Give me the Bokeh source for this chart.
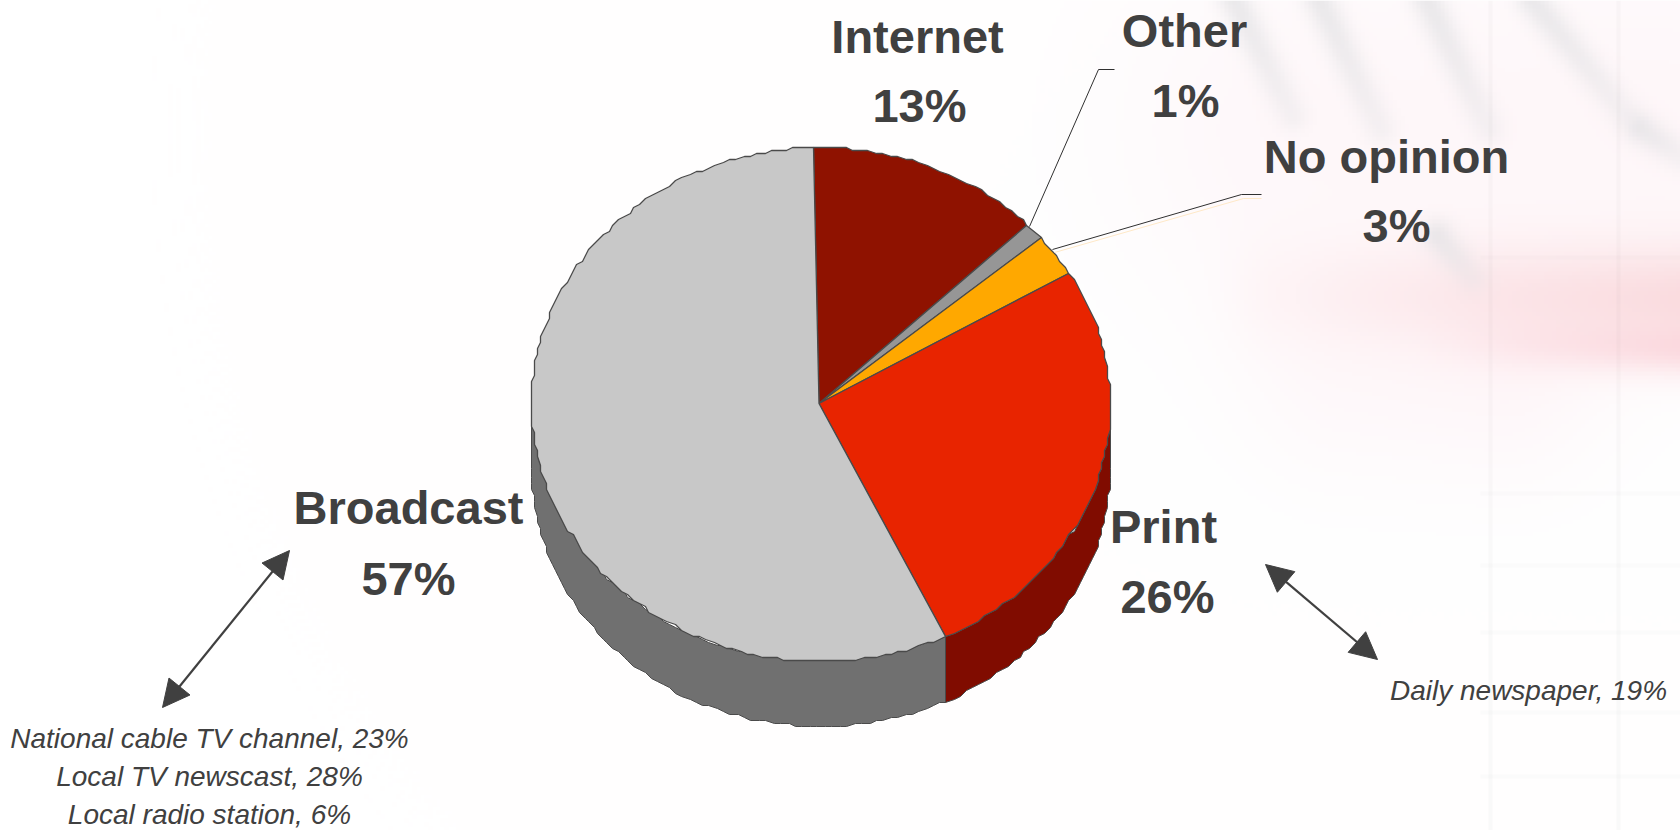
import numpy as np
from bokeh.plotting import figure
from bokeh.models import Range1d, Arrow, NormalHead
from bokeh.core.properties import value
from bokeh.embed import file_html
from bokeh.resources import INLINE

# ---- data -------------------------------------------------------------
categories = ["Internet", "Other", "No opinion", "Print", "Broadcast"]
shares = [13, 1, 2.8, 26.4, 56.8]
top_colors = ["#8F1200", "#969696", "#FFA800", "#E82400", "#C8C8C8"]
wall_colors = {"Print": "#800C00", "Broadcast": "#707070"}
label_text = ["Internet", "13%", "Other", "1%", "No opinion", "3%", "Print", "26%", "Broadcast", "57%"]
label_x = [917, 919, 1184, 1185, 1386, 1396, 1163, 1167, 408, 408]
label_base = [36, 105, 30, 100, 156, 225, 526, 596, 507, 578]
note_text = ["National cable TV channel, 23%", "Local TV newscast, 28%", "Local radio station, 6%", "Daily newspaper, 19%"]
note_x = [209, 209, 209, 1528]
note_base = [738, 776, 814, 690]
INK = "#404040"
FONT = "Liberation Sans"

W, H = 1680, 830
def Y(v):
    return 830 - np.asarray(v, dtype=float)

p = figure(width=W, height=H, output_backend="svg", toolbar_location=None,
           x_range=Range1d(0, 1680), y_range=Range1d(0, 830), min_border=0,
           outline_line_color=None, background_fill_color="white", border_fill_color="white")
p.axis.visible = False
p.grid.visible = False

# ---- pale backdrop ----------------------------------------------------
sx, sy = 4, 4
gx, gy = np.meshgrid(np.arange(0, 1680, sx) + 2.0, np.arange(0, 830, sy) + 2.0)
bg = np.ones(gx.shape + (3,))
def streak(x0, y0, x1, y1, w, col, s, fade=0.25):
    global bg
    dx, dy = x1 - x0, y1 - y0
    t = np.clip(((gx - x0) * dx + (gy - y0) * dy) / (dx * dx + dy * dy), 0, 1)
    d = np.hypot(gx - (x0 + t * dx), gy - (y0 + t * dy))
    a = s * np.exp(-(d / w) ** 2) * (fade + (1 - fade) * t)
    for k in range(3):
        bg[..., k] = bg[..., k] * (1 - a) + col[k] * a
tint = (1.0, 0.93, 0.95)
pink = (0.97, 0.78, 0.80)
grey = (0.88, 0.88, 0.89)
streak(1300, 130, 1650, 130, 190, tint, 0.45, 0.9)
streak(1350, 380, 1500, 380, 110, tint, 0.4, 0.8)
streak(1290, 295, 1700, 300, 55, pink, 0.62, 0.2)
streak(1450, 345, 1700, 350, 24, (0.98, 0.76, 0.80), 0.5, 0.1)
for seg in [(1292, 115, 1234, 0), (1380, 128, 1319, 0), (1488, 128, 1427, 0),
            (1623, 111, 1532, 0), (1680, 155, 1640, 128), (1471, 277, 1437, 236)]:
    streak(*seg, 16, grey, 0.65, 0.5)
for vx in [1490, 1618]:
    bg[:, int(vx / sx)] *= 0.98
for hy in [258, 492, 564, 635, 715, 778]:
    mask = gx[0] > 1480
    bg[int(hy / sy), mask] *= 0.988
rgba = np.zeros(gx.shape, dtype=np.uint32)
view = rgba.view(dtype=np.uint8).reshape(gx.shape + (4,))
view[..., :3] = np.clip(bg * 255, 0, 255).astype(np.uint8)
view[..., 3] = 255
p.image_rgba(image=[rgba[::-1]], x=0, y=0, dw=1680, dh=830)

# ---- pie geometry -----------------------------------------------------
cx, cy, rx, ry = 820.5, 404.0, 289.5, 257.0
apex_x, apex_y = 818.5, 403.0
depth = 65
start_deg = -1.2
STEP = 3.0

def rim(a0, a1, dy=0.0):
    a = np.radians(np.linspace(a0, a1, max(2, int(abs(a1 - a0) * 0.7))))
    xs = np.round((cx + rx * np.sin(a)) / STEP) * STEP
    ys = np.round((cy + dy - ry * np.cos(a)) / STEP) * STEP
    return xs, ys

edges = start_deg + np.cumsum([0] + shares) * 3.6
# walls first
for name, a0, a1 in zip(categories, edges[:-1], edges[1:]):
    if name in wall_colors:
        lo, hi = max(a0, 90), min(a1, 270)
        xt, yt = rim(lo, hi)
        xb, yb = rim(lo, hi, depth)
        p.patch(np.r_[xt, xb[::-1]], Y(np.r_[yt, yb[::-1]]), fill_color=wall_colors[name],
                line_color="#4a4a4a", line_width=1)
# top faces
for name, c, a0, a1 in zip(categories, top_colors, edges[:-1], edges[1:]):
    xs, ys = rim(a0, a1)
    p.patch(np.r_[apex_x, xs], Y(np.r_[apex_y, ys]), fill_color=c, line_color="#4a4a4a", line_width=1.3)

# ---- leader lines -----------------------------------------------------
p.line([1029, 1098, 1114], Y([226, 69, 69]), line_color="#303030", line_width=1)
p.line([1052, 1241, 1261], Y([249, 194, 194]), line_color="#303030", line_width=1)
p.line([1054, 1243, 1261], Y([252, 198, 198]), line_color="#FFE9C8", line_width=1)

# ---- arrows -----------------------------------------------------------
def head():
    return NormalHead(size=27, fill_color=INK, line_color=INK)
for (x0, y0, x1, y1) in [(289, 550, 162, 707), (1265, 564, 1377, 659)]:
    p.add_layout(Arrow(start=head(), end=head(), x_start=x0, y_start=float(Y(y0)), x_end=x1, y_end=float(Y(y1)),
                       line_color=INK, line_width=2.2))

# ---- text -------------------------------------------------------------
p.text(x=label_x, y=Y(label_base), text=label_text, text_font=value(FONT), text_font_style="bold",
       text_font_size="47px", text_color=INK, text_align="center", text_baseline="alphabetic")
p.text(x=note_x, y=Y(note_base), text=note_text, text_font=value(FONT), text_font_style="italic",
       text_font_size="28px", text_color=INK, text_align="center", text_baseline="alphabetic")

open("out.html", "w").write(file_html(p, INLINE))
